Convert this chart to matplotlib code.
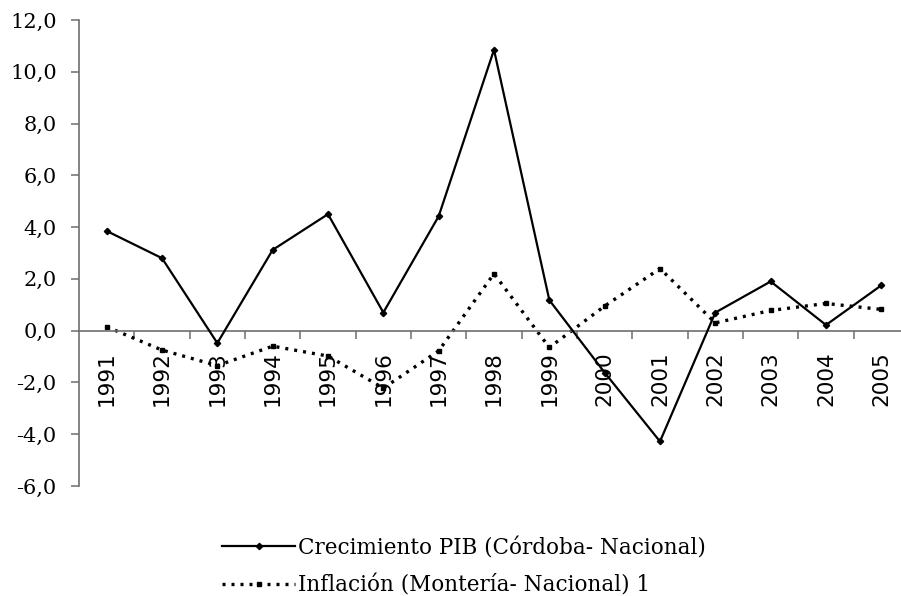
import matplotlib
matplotlib.use("Agg")
import matplotlib.pyplot as plt
from matplotlib.ticker import FuncFormatter

years = ["1991", "1992", "1993", "1994", "1995", "1996", "1997", "1998",
         "1999", "2000", "2001", "2002", "2003", "2004", "2005"]
pib = [3.85, 2.8, -0.48, 3.12, 4.5, 0.7, 4.42, 10.85, 1.18, -1.62, -4.28, 0.7, 1.9, 0.22, 1.75]
inflacion = [0.15, -0.75, -1.35, -0.6, -0.98, -2.22, -0.78, 2.2, -0.65, 0.95, 2.4, 0.3, 0.78, 1.05, 0.82]
label_pib = "Crecimiento PIB (Córdoba- Nacional)"
label_inf = "Inflación (Montería- Nacional) 1"

W, H = 901, 596
fig = plt.figure(figsize=(W / 100, H / 100), dpi=100)
ax = fig.add_axes([79 / W, 1 - 486 / H, 830 / W, 466 / H])

x = list(range(len(years)))
ax.plot(x, pib, color="black", lw=1.6, marker="D", ms=3.2, label=label_pib, zorder=3)
ax.plot(x, inflacion, color="black", lw=2.4, linestyle=(0, (0.9, 1.8)), marker="s",
        ms=3, label=label_inf, zorder=2)

ax.set_xlim(-0.5, len(years) - 0.5)
ax.set_ylim(-6, 12)
ax.set_yticks([-6, -4, -2, 0, 2, 4, 6, 8, 10, 12])
ax.yaxis.set_major_formatter(FuncFormatter(lambda v, p: f"{v:.1f}".replace(".", ",")))

axis_col = "#6e6e6e"
for s in ["top", "right"]:
    ax.spines[s].set_visible(False)
ax.spines["bottom"].set_position(("data", 0))
ax.spines["bottom"].set_color(axis_col)
ax.spines["left"].set_color(axis_col)
ax.spines["bottom"].set_linewidth(1.2)
ax.spines["left"].set_linewidth(1.2)

ax.set_xticks(x)
ax.set_xticklabels(years, rotation=90, fontfamily="DejaVu Sans", fontsize=15.5)
ax.set_xticks([i + 0.5 for i in x[:-1]], minor=True)
ax.tick_params(axis="x", which="major", length=0, pad=15)
ax.tick_params(axis="x", which="minor", length=6, width=1.1, color=axis_col, direction="out")
ax.tick_params(axis="y", length=6, width=1.1, color=axis_col, pad=10)
for t in ax.get_yticklabels():
    t.set_fontfamily("DejaVu Serif")
    t.set_fontsize(15)

fig.legend(loc="upper left", bbox_to_anchor=(222 / W, 1 - 537 / H), frameon=False,
           prop={"family": "DejaVu Serif", "size": 15.5}, handlelength=3.4,
           handletextpad=0.15, numpoints=1, labelspacing=0.7, borderpad=0, borderaxespad=0)

fig.savefig("out.png", dpi=100)
